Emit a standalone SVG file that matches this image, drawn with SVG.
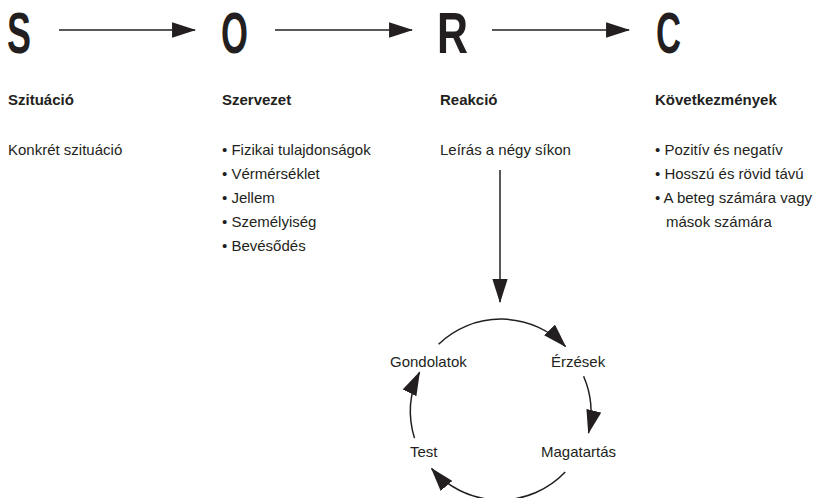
<svg xmlns="http://www.w3.org/2000/svg" width="813" height="498" viewBox="0 0 813 498">
<style>
text{font-family:"Liberation Sans Narrow","Liberation Sans",Arial,sans-serif;fill:#231f20}
.big{font-size:57px;font-weight:bold}
.h{font-size:15px;font-weight:bold}
.t{font-size:15px}
.c{stroke:#231f20;stroke-width:1.5;fill:none}
</style>
<defs>
<marker id="ah" markerUnits="userSpaceOnUse" markerWidth="24" markerHeight="16" viewBox="0 0 22 14" refX="21" refY="7" orient="auto">
<path d="M0,0 L22,7 L0,14 Z" fill="#231f20"/>
</marker>
</defs>
<rect width="813" height="498" fill="#fff"/>
<g id="S"><text class="big" x="7" y="53" textLength="24" lengthAdjust="spacingAndGlyphs">S</text><text class="h" x="8" y="105">Szituáció</text><text class="t" x="8" y="155">Konkrét szituáció</text></g>
<g id="O"><text class="big" x="221" y="53" textLength="27" lengthAdjust="spacingAndGlyphs">O</text><text class="h" x="222" y="105">Szervezet</text>
<text class="t" x="222" y="155">• Fizikai tulajdonságok</text>
<text class="t" x="222" y="179">• Vérmérséklet</text>
<text class="t" x="222" y="203">• Jellem</text>
<text class="t" x="222" y="227">• Személyiség</text>
<text class="t" x="222" y="251">• Bevésődés</text></g>
<g id="R"><text class="big" x="437" y="53" textLength="31" lengthAdjust="spacingAndGlyphs">R</text><text class="h" x="440" y="105">Reakció</text><text class="t" x="440" y="155">Leírás a négy síkon</text></g>
<g id="C"><text class="big" x="656" y="53" textLength="25" lengthAdjust="spacingAndGlyphs">C</text><text class="h" x="655" y="105">Következmények</text>
<text class="t" x="655" y="155">• Pozitív és negatív</text>
<text class="t" x="655" y="179">• Hosszú és rövid távú</text>
<text class="t" x="655" y="203">• A beteg számára vagy</text>
<text class="t" x="666" y="227">mások számára</text></g>
<g id="Gondolatok"><text class="t" x="390" y="367">Gondolatok</text></g>
<g id="Erzesek"><text class="t" x="551" y="367">Érzések</text></g>
<g id="Magatartas"><text class="t" x="541" y="457">Magatartás</text></g>
<g id="Test"><text class="t" x="410" y="457">Test</text></g>
<g id="connectors">
<line class="c" x1="59" y1="30" x2="195" y2="30" marker-end="url(#ah)"/>
<line class="c" x1="275" y1="30" x2="412" y2="30" marker-end="url(#ah)"/>
<line class="c" x1="492" y1="30" x2="629" y2="30" marker-end="url(#ah)"/>
<line class="c" x1="500" y1="170" x2="500" y2="302" marker-end="url(#ah)"/>
<path class="c" d="M438.6,344.2 A90,90 0 0 1 565.5,346.4" marker-end="url(#ah)"/>
<path class="c" d="M583.6,376.3 A90,90 0 0 1 588.5,433" marker-end="url(#ah)"/>
<path class="c" d="M565.2,472.1 A90,90 0 0 1 431.6,468.5" marker-end="url(#ah)"/>
<path class="c" d="M414.5,438.1 A90,90 0 0 1 419.5,372.3" marker-end="url(#ah)"/>
</g>
</svg>
